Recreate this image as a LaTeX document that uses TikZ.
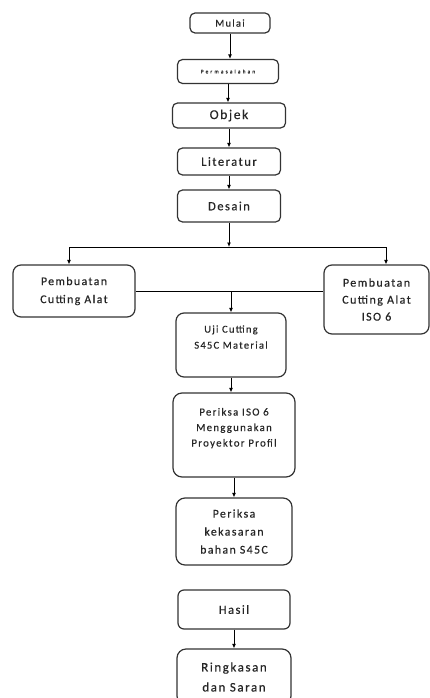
\documentclass[tikz,border=0pt]{standalone}
\usepackage{fontspec}
\setmainfont{Carlito}[LetterSpace=12, FakeBold=0.4]
\usetikzlibrary{arrows.meta}

\begin{document}
\begin{tikzpicture}[x=1pt, y=-1pt, >={Latex[length=4.5pt,width=4pt]},
    kotak/.style={draw=black!80, line width=1.2pt, rounded corners=5pt, fill=white,
        inner sep=0pt, align=center, text=black!85},
    garis/.style={line width=0.9pt}]

    \useasboundingbox (0,0) rectangle (430,698);

    % Alur atas
    \node[kotak, minimum width=80, minimum height=20, font=\fontsize{10.5}{13}\selectfont] (mulai) at (230,23) {Mulai};
    \node[kotak, minimum width=101, minimum height=24, font=\fontsize{5.5}{7}\selectfont\addfontfeatures{LetterSpace=38}] (masalah) at (228,71.5) {Permasalahan};
    \node[kotak, minimum width=113, minimum height=25, font=\fontsize{13.5}{15}\selectfont] (objek) at (229,115.5) {Objek};
    \node[kotak, minimum width=103, minimum height=27, font=\fontsize{12.5}{15}\selectfont] (literatur) at (229,161.5) {Literatur};
    \node[kotak, minimum width=103, minimum height=32, font=\fontsize{12.5}{15}\selectfont] (desain) at (229,206) {Desain};

    % Dua cabang pembuatan
    \node[kotak, rounded corners=8pt, minimum width=122, minimum height=52, font=\fontsize{11.8}{18}\selectfont] (alatkiri) at (74,291) {Pembuatan\\Cutting Alat};
    \node[kotak, rounded corners=8pt, minimum width=105, minimum height=69, font=\fontsize{12}{17}\selectfont] (alatkanan) at (376.5,299.5) {Pembuatan\\Cutting Alat\\ISO 6};

    % Alur bawah
    \node[kotak, rounded corners=8pt, minimum width=110, minimum height=64, font=\fontsize{10.5}{16}\selectfont] (uji) at (231,345) {Uji Cutting\\S45C Material\\~};
    \node[kotak, rounded corners=9pt, minimum width=122, minimum height=84, font=\fontsize{10.8}{15.5}\selectfont] (iso) at (234,435) {Periksa ISO 6\\Menggunakan\\Proyektor Profil\\~};
    \node[kotak, rounded corners=9pt, minimum width=116, minimum height=67, font=\fontsize{11.8}{18}\selectfont] (kasar) at (234,531.5) {Periksa\\kekasaran\\bahan S45C};
    \node[kotak, rounded corners=6pt, minimum width=112, minimum height=39, font=\fontsize{12.5}{15}\selectfont] (hasil) at (234,609.5) {Hasil};
    \node[kotak, rounded corners=9pt, minimum width=114, minimum height=56, font=\fontsize{13}{20}\selectfont] (ringkasan) at (234,677) {Ringkasan\\dan Saran};

    % Panah alur atas
    \draw[garis,->] (mulai.south) -- (mulai.south |- masalah.north);
    \draw[garis,->] (masalah.south) -- (masalah.south |- objek.north);
    \draw[garis,->] (objek.south) -- (objek.south |- literatur.north);
    \draw[garis,->] (literatur.south) -- (literatur.south |- desain.north);

    % Percabangan
    \coordinate (cabang) at (229,247);
    \coordinate (kiri) at (69,247);
    \coordinate (kanan) at (386,247);
    \draw[garis,->] (desain.south) -- (cabang);
    \draw[garis,->] (cabang) -- (kiri) -- (kiri |- alatkiri.north);
    \draw[garis,->] (cabang) -- (kanan) -- (kanan |- alatkanan.north);

    % Penggabungan
    \coordinate (temu) at (uji.north |- alatkiri.east);
    \draw[garis] (alatkiri.east) -- (alatkiri.east -| alatkanan.west);
    \draw[garis,->] (temu) -- (uji.north);

    % Panah alur bawah
    \draw[garis,->] (uji.south) -- (uji.south |- iso.north);
    \draw[garis,->] (iso.south) -- (iso.south |- kasar.north);
    \draw[garis,->] (hasil.south) -- (hasil.south |- ringkasan.north);

\end{tikzpicture}
\end{document}
